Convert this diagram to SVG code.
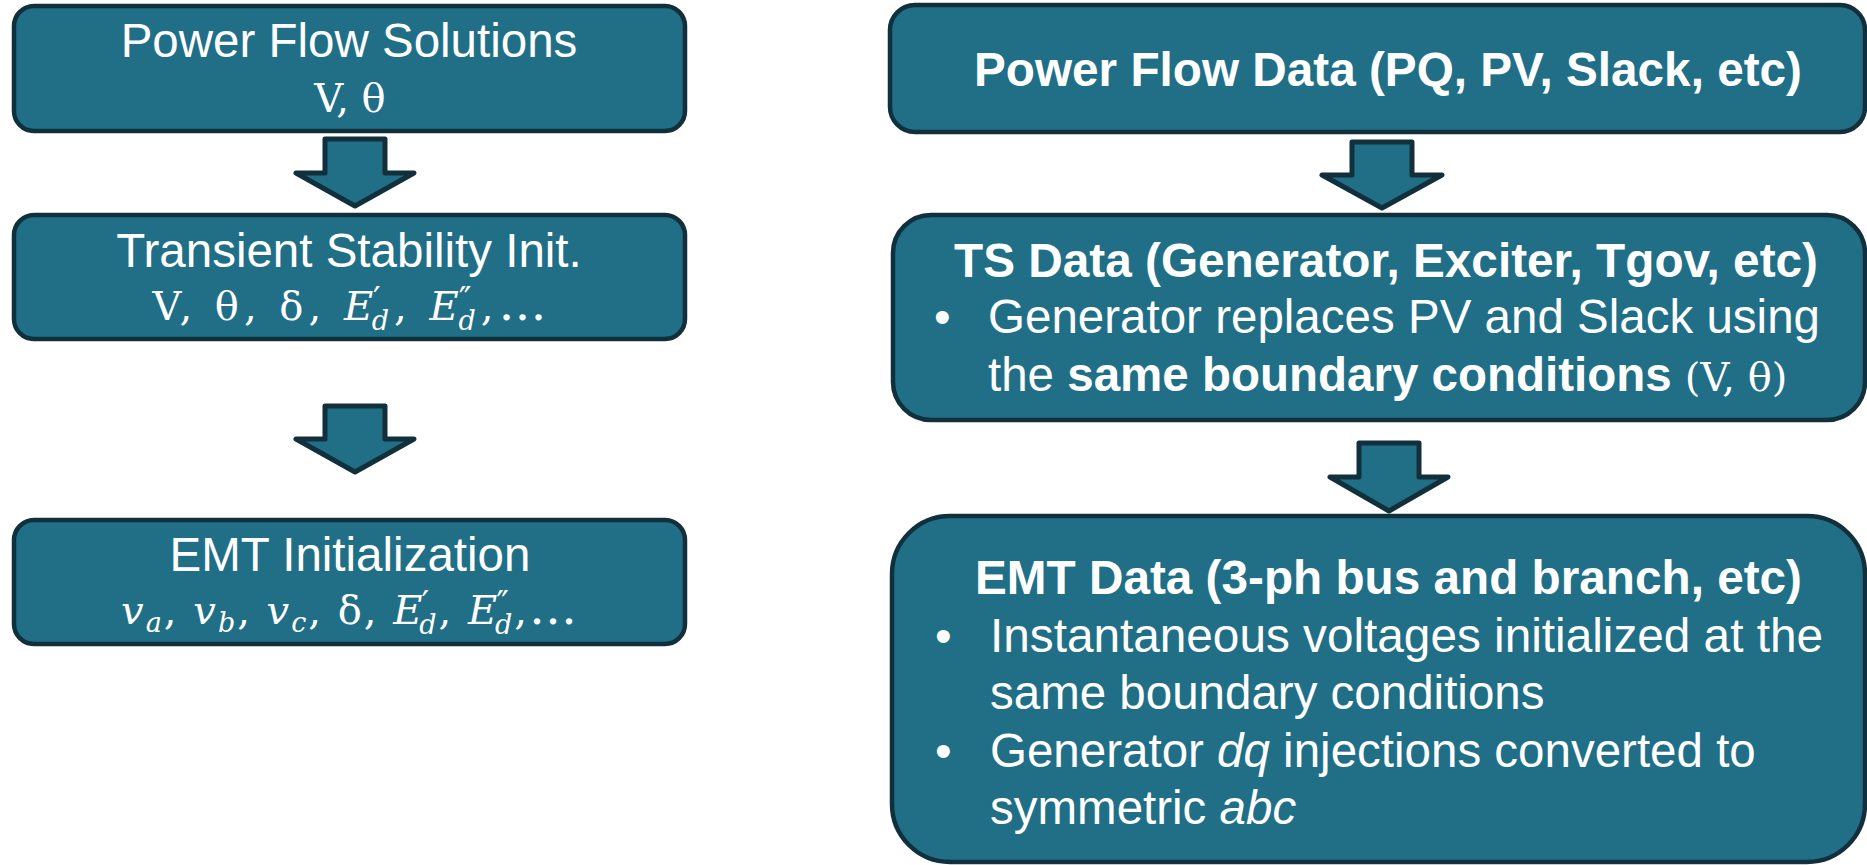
<svg xmlns="http://www.w3.org/2000/svg" width="1867" height="865" viewBox="0 0 1867 865">
<style>
.box{fill:#206f87;stroke:#11303c;stroke-width:4.5}
.arr{fill:#206f87;stroke:#11303c;stroke-width:5;stroke-linejoin:round}
text{fill:#ffffff;font-family:"Liberation Sans",Arial,sans-serif;font-size:47.5px}
.c{text-anchor:middle}
.b{font-weight:bold}
.m{font-family:"DejaVu Serif","Liberation Serif",serif;font-size:40px}
.i{font-style:italic}
.s{font-size:27px}
.p{font-size:34px}
.e{font-size:48px}
</style>
<rect width="1867" height="865" fill="#ffffff"/>
<g id="connectors">
<polygon class="arr" points="325,139 385,139 385,173 414,173 355,206 296,173 325,173"/>
<polygon class="arr" points="325,406 385,406 385,439 414,439 355,472 296,439 325,439"/>
<polygon class="arr" points="1352,142 1412,142 1412,175 1442,175 1382,208 1322,175 1352,175"/>
<polygon class="arr" points="1359,443 1419,443 1419,477 1448,477 1389,511 1330,477 1359,477"/>
</g>
<g id="pf-solutions">
<rect class="box" x="14" y="6" width="671" height="125" rx="20"/>
<text class="c" x="349" y="57">Power Flow Solutions</text>
<text class="c m" x="350" y="112">V, θ</text>
</g>
<g id="ts-init">
<rect class="box" x="14" y="215" width="671" height="124" rx="20"/>
<text class="c" x="349" y="267">Transient Stability Init.</text>
<text class="c m" x="352" y="320" font-size="42px" letter-spacing="5">V, θ, δ, <tspan class="i">E</tspan><tspan class="p" dx="-5" dy="-9">′</tspan><tspan class="s i" dx="-14" dy="19">d</tspan><tspan dy="-10">, </tspan><tspan class="i">E</tspan><tspan class="p" dx="-5" dy="-9">″</tspan><tspan class="s i" dx="-18" dy="19">d</tspan><tspan dy="-10">,</tspan><tspan class="e">…</tspan></text>
</g>
<g id="emt-init">
<rect class="box" x="14" y="520" width="671" height="124" rx="20"/>
<text class="c" x="350" y="571">EMT Initialization</text>
<text class="c m" x="350" y="624" letter-spacing="2"><tspan class="i">v</tspan><tspan class="s i" dy="8">a</tspan><tspan dy="-8">, </tspan><tspan class="i">v</tspan><tspan class="s i" dy="8">b</tspan><tspan dy="-8">, </tspan><tspan class="i">v</tspan><tspan class="s i" dy="8">c</tspan><tspan dy="-8">, δ, </tspan><tspan class="i">E</tspan><tspan class="p" dx="-3" dy="-9">′</tspan><tspan class="s i" dx="-12" dy="19">d</tspan><tspan dy="-10">, </tspan><tspan class="i">E</tspan><tspan class="p" dx="-3" dy="-9">″</tspan><tspan class="s i" dx="-16" dy="19">d</tspan><tspan dy="-10">,</tspan><tspan class="e">…</tspan></text>
</g>
<g id="pf-data">
<rect class="box" x="890" y="5" width="975" height="127" rx="25"/>
<text class="b" x="974" y="86" textLength="828" lengthAdjust="spacingAndGlyphs">Power Flow Data (PQ, PV, Slack, etc)</text>
</g>
<g id="ts-data">
<rect class="box" x="893" y="215" width="972" height="205" rx="38"/>
<text class="b" x="954" y="277" textLength="864" lengthAdjust="spacingAndGlyphs">TS Data (Generator, Exciter, Tgov, etc)</text>
<text x="934" y="333">•</text>
<text x="988" y="333" textLength="832" lengthAdjust="spacingAndGlyphs">Generator replaces PV and Slack using</text>
<text x="988" y="391">the <tspan class="b">same boundary conditions</tspan> <tspan class="m" font-size="41px">(V, θ)</tspan></text>
</g>
<g id="emt-data">
<rect class="box" x="892" y="516" width="973" height="346" rx="58"/>
<text class="b" x="975" y="594" textLength="827" lengthAdjust="spacingAndGlyphs">EMT Data (3-ph bus and branch, etc)</text>
<text x="935" y="652">•</text>
<text x="990" y="652" textLength="833" lengthAdjust="spacingAndGlyphs">Instantaneous voltages initialized at the</text>
<text x="990" y="709">same boundary conditions</text>
<text x="935" y="767">•</text>
<text x="990" y="767">Generator <tspan class="i">dq</tspan> injections converted to</text>
<text x="990" y="824">symmetric <tspan class="i">abc</tspan></text>
</g>
</svg>
